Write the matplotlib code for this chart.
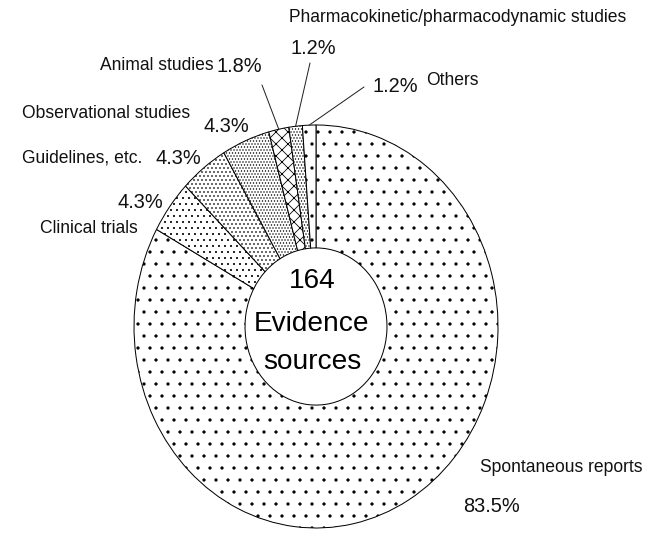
import matplotlib
matplotlib.use("Agg")
import matplotlib.pyplot as plt
import numpy as np

# Evidence sources behind the reports (share of 164 sources, %)
categories = [
    "Spontaneous reports",
    "Clinical trials",
    "Guidelines, etc.",
    "Observational studies",
    "Animal studies",
    "Pharmacokinetic/pharmacodynamic studies",
    "Others",
]
shares = [83.5, 4.3, 4.3, 4.3, 1.8, 1.2, 1.2]
total_sources = 164
hatches = [".", "..", "...", "....", "xx", "....", "."]

plt.rcParams["font.family"] = ["Liberation Sans", "DejaVu Sans"]
plt.rcParams["hatch.linewidth"] = 0.8

# at 72 dpi one point is one pixel
DPI = 72
W, H = 654, 554
fig = plt.figure(figsize=(W / DPI, H / DPI), dpi=DPI)
fig.patch.set_facecolor("white")


def fx(px):
    return px / W


def fy(py):
    return 1 - py / H


# ring geometry in pixels (centre and the two radii of the outer ellipse)
cx, cy, rx, ry = 316, 326.5, 182, 201.5
ax = fig.add_axes([fx(cx - rx), fy(cy + ry), 2 * rx / W, 2 * ry / H])
wedges, _ = ax.pie(
    shares,
    startangle=90,
    counterclock=False,
    radius=1.0,
    wedgeprops=dict(width=0.61, edgecolor="black", linewidth=1.0, facecolor="white"),
)
for w, h in zip(wedges, hatches):
    w.set_hatch(h)
    w.set_clip_on(False)
ax.set_aspect("auto")
ax.set_xlim(-1, 1)
ax.set_ylim(-1, 1)
ax.axis("off")

pct = [f"{v:.1f}%" for v in shares]
NAME_FS = 17.5
PCT_FS = 20


def label(x, y, s, fs, ha="left"):
    fig.text(fx(x), fy(y), s, fontsize=fs, ha=ha, va="center", color="#111111")


# labels on the left side
label(22, 113, categories[3], NAME_FS)
label(203, 127, pct[3], PCT_FS)
label(22, 158, categories[2], NAME_FS)
label(155, 158, pct[2], PCT_FS)
label(118, 202, pct[1], PCT_FS)
label(40, 228, categories[1], NAME_FS)

# labels above the ring
label(100, 66, categories[4], NAME_FS)
label(216, 67, pct[4], PCT_FS)
label(289, 18, categories[5], NAME_FS)
label(290, 48, pct[5], PCT_FS)
label(373, 86, pct[6], PCT_FS)
label(426, 80, categories[6], NAME_FS)

# spontaneous reports
label(480, 468, categories[0], NAME_FS)
label(463, 506, pct[0], PCT_FS)

# leader lines from the small slices to their labels
starts = {4: (262, 85), 5: (310, 63), 6: (364, 87)}
for i, (sx, sy) in starts.items():
    w = wedges[i]
    mid = np.deg2rad((w.theta1 + w.theta2) / 2)
    ax.annotate(
        "",
        xy=(np.cos(mid), np.sin(mid)),
        xycoords="data",
        xytext=(fx(sx), fy(sy)),
        textcoords="figure fraction",
        arrowprops=dict(arrowstyle="-", lw=1.0, color="#222222", shrinkA=0, shrinkB=0),
        annotation_clip=False,
    )

# centre text
CENTRE_FS = 28
fig.text(fx(312), fy(281), str(total_sources), fontsize=CENTRE_FS, ha="center", va="center")
fig.text(fx(312), fy(324), "Evidence", fontsize=CENTRE_FS, ha="center", va="center")
fig.text(fx(312), fy(362), "sources", fontsize=CENTRE_FS, ha="center", va="center")

fig.savefig("out.png", dpi=DPI, facecolor="white")
